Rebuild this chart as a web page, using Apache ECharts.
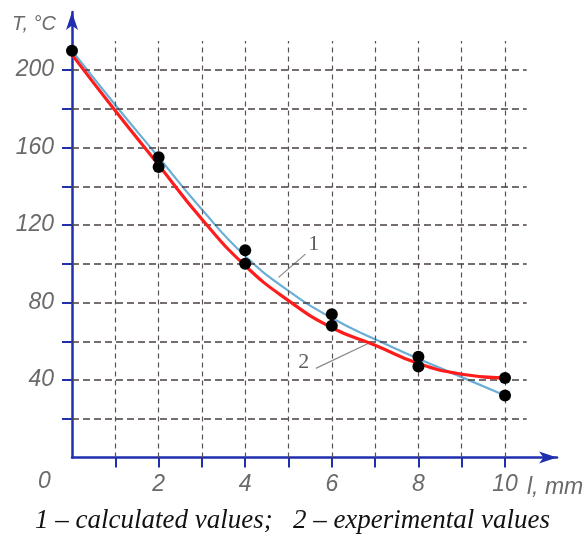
<!DOCTYPE html>
<html>
<head>
<meta charset="utf-8">
<script src="https://cdn.jsdelivr.net/npm/echarts@6/dist/echarts.min.js"></script>
<style>
  html, body { margin: 0; padding: 0; background: #fff; }
  #chart { width: 585px; height: 540px; }
</style>
</head>
<body>
<div id="chart"></div>
<script>
// distance l, mm
var lengths = [0, 1, 2, 3, 4, 5, 6, 7, 8, 9, 10];
// 1 - calculated values (blue)
var calculated = [210, 182, 155, 128, 104, 86, 72, 61, 51, 41.5, 32];
// 2 - experimental values (red)
var experimental = [208, 179, 151, 123, 99, 81, 67, 58, 48.5, 43, 41];
// measured points
var pointL = [0, 2, 2, 4, 4, 6, 6, 8, 8, 10, 10];
var pointT = [210, 155, 150, 107, 100, 74, 68, 52, 47, 41, 32];

var xTicks = [1, 2, 3, 4, 5, 6, 7, 8, 9, 10];
var yTicks = [20, 40, 60, 80, 100, 120, 140, 160, 180, 200];
var xLabels = [2, 4, 6, 8, 10];
var yLabels = [40, 80, 120, 160, 200];

var axisBlue = '#1f2fb0';
var labelFont = { fontFamily: 'Liberation Sans', fontStyle: 'italic', fontSize: 23, color: '#6a6a6a' };

function pairs(xs, ys) {
    return xs.map(function (x, i) { return [x, ys[i]]; });
}

// dashed grid
var vGrid = xTicks.map(function (x) { return [{ coord: [x, 0] }, { coord: [x, 215] }]; });
var hGrid = yTicks.map(function (y) { return [{ coord: [0, y] }, { coord: [10.5, y] }]; });

var chart = echarts.init(document.getElementById('chart'));
var option = {
    animation: false,
    grid: { left: 72, right: 28, top: 12, bottom: 82.5 },
    xAxis: [{
        type: 'value', min: 0, max: 11.2, interval: 1,
        splitLine: { show: false },
        axisLine: { onZero: false, lineStyle: { color: axisBlue, width: 2.5 }, symbol: ['none', 'arrow'], symbolSize: [9, 18] },
        axisTick: { customValues: xTicks, length: 10, lineStyle: { color: axisBlue, width: 2 } },
        axisLabel: Object.assign({ customValues: xLabels, margin: 16 }, labelFont)
    }, {
        type: 'value', min: 0, max: 11.2, interval: 1,
        splitLine: { show: false },
        axisLine: { show: false },
        axisTick: { customValues: xTicks, inside: true, length: 10, lineStyle: { color: axisBlue, width: 2 } },
        axisLabel: { show: false }
    }],
    yAxis: [{
        type: 'value', min: 0, max: 230, interval: 20,
        splitLine: { show: false },
        axisLine: { onZero: false, lineStyle: { color: axisBlue, width: 2.5 }, symbol: ['none', 'arrow'], symbolSize: [9, 18] },
        axisTick: { customValues: yTicks, length: 10, lineStyle: { color: axisBlue, width: 2 } },
        axisLabel: Object.assign({ customValues: yLabels, margin: 18 }, labelFont)
    }, {
        type: 'value', min: 0, max: 230, interval: 20,
        splitLine: { show: false },
        axisLine: { show: false },
        axisTick: { customValues: yTicks, inside: true, length: 10, lineStyle: { color: axisBlue, width: 2 } },
        axisLabel: { show: false }
    }],
    graphic: [
        { type: 'text', left: 12, top: 14, style: { text: 'T, °C', font: 'italic 20px "Liberation Sans"', fill: '#6a6a6a' } },
        { type: 'text', left: 38, top: 470, style: { text: '0', font: 'italic 23px "Liberation Sans"', fill: '#6a6a6a' } },
        { type: 'text', left: 527, top: 476, style: { text: 'l, mm', font: 'italic 23px "Liberation Sans"', fill: '#6a6a6a' } },
        { type: 'text', left: 'center', top: 507, style: { text: '1 – calculated values;   2 – experimental values', font: 'italic 27px "Liberation Serif"', fill: '#111' } }
    ],
    series: [{
        type: 'line', data: [], silent: true, z: 1,
        markLine: { symbol: 'none', silent: true, label: { show: false }, animation: false,
            lineStyle: { color: '#5a5050', width: 1.2, type: [5, 4] }, data: vGrid }
    }, {
        type: 'line', data: [], silent: true, z: 1,
        markLine: { symbol: 'none', silent: true, label: { show: false }, animation: false,
            lineStyle: { color: '#4a4040', width: 1.6, type: [7, 4] }, data: hGrid }
    }, {
        name: 'leader 1', type: 'line', data: [[4.77, 93], [5.39, 105]], showSymbol: false, z: 3,
        lineStyle: { color: '#888', width: 1.2 }
    }, {
        name: 'leader 2', type: 'line', data: [[5.63, 46], [6.85, 59]], showSymbol: false, z: 3,
        lineStyle: { color: '#888', width: 1.2 }
    }, {
        name: 'calculated', type: 'line', smooth: 0.5, showSymbol: false, z: 4,
        data: pairs(lengths, calculated),
        lineStyle: { color: '#6aaed6', width: 2.2 }
    }, {
        name: 'experimental', type: 'line', smooth: 0.5, showSymbol: false, z: 5,
        data: pairs(lengths, experimental),
        lineStyle: { color: '#ff1c1c', width: 3.2 }
    }, {
        name: 'points', type: 'scatter', z: 6,
        data: pairs(pointL, pointT),
        symbolSize: 12,
        itemStyle: { color: '#000', opacity: 1 }
    }, {
        name: 'curve labels', type: 'scatter', z: 6, symbolSize: 0,
        data: [[5.58, 110, '1'], [5.35, 49, '2']],
        label: { show: true, position: 'inside', formatter: function (p) { return p.value[2]; },
            fontFamily: 'Liberation Serif', fontSize: 22, color: '#333' }
    }]
};
chart.setOption(option);
</script>
</body>
</html>
